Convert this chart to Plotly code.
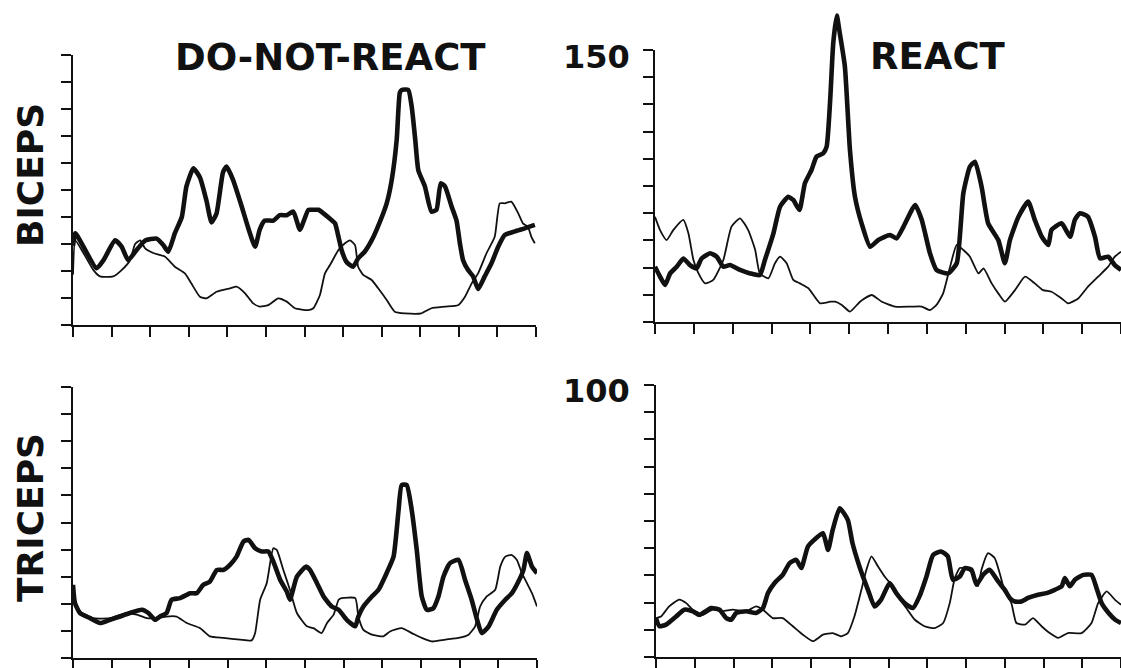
import plotly.graph_objects as go

W, H = 1121, 668

# ---------------- data (x in tick units 0..12, y in axis units) ----------------
# DO-NOT-REACT / BICEPS (scale 0..150)
tl_thick_x = [0.0, 0.06, 0.27, 0.61, 0.79, 1.09, 1.26, 1.43, 1.65, 1.87, 2.17, 2.34, 2.47, 2.64, 2.82, 2.94, 3.12, 3.29, 3.46, 3.59, 3.72, 3.89, 3.98, 4.15, 4.37, 4.54, 4.72, 4.84, 4.97, 5.19, 5.36, 5.54, 5.71, 5.88, 6.10, 6.18, 6.36, 6.49, 6.66, 6.79, 6.88, 6.96, 7.09, 7.26, 7.39, 7.56, 7.74, 7.87, 8.13, 8.26, 8.39, 8.47, 8.52, 8.69, 8.78, 8.87, 8.95, 9.12, 9.29, 9.42, 9.53, 9.64, 9.81, 9.94, 10.03, 10.11, 10.24, 10.37, 10.50, 10.67, 10.84, 11.02, 11.19, 11.45, 11.71, 11.97]
tl_thick_y = [44, 51, 43.5, 31.5, 36, 47, 43.5, 36, 41.7, 47, 48, 44.4, 40.7, 51, 60, 77, 87, 82, 69, 57, 62, 85, 88, 80.5, 66, 54, 43.5, 53, 58, 58, 61, 61, 63, 53, 64, 64, 64, 62, 59, 56.5, 49, 41.7, 35, 32.4, 37, 40.7, 47, 53, 67.6, 80.5, 103, 129, 130.6, 130.6, 121, 103, 86, 77, 63, 64, 78.7, 77, 66, 58, 45, 36, 30.5, 27, 20, 27, 34, 43.5, 50, 52, 53.7, 55.6]
tl_thin_x = [0.0, 0.06, 0.27, 0.53, 0.70, 1.04, 1.26, 1.48, 1.61, 1.74, 1.87, 2.08, 2.38, 2.64, 2.90, 3.07, 3.29, 3.46, 3.72, 4.07, 4.24, 4.46, 4.67, 4.84, 5.06, 5.32, 5.54, 5.75, 6.10, 6.23, 6.40, 6.53, 6.66, 6.88, 7.05, 7.18, 7.31, 7.39, 7.52, 7.74, 7.91, 8.13, 8.34, 8.60, 9.03, 9.29, 9.64, 9.98, 10.16, 10.33, 10.50, 10.72, 10.93, 11.06, 11.19, 11.36, 11.54, 11.66, 11.79, 11.88, 11.97]
tl_thin_y = [28, 47, 40, 30.5, 27, 27, 30.5, 36, 45, 47, 42.6, 40, 38, 32.4, 28.7, 23, 15.7, 14.8, 18.5, 20.4, 21.3, 17.6, 12, 10.2, 11, 14.8, 13, 9.3, 8.3, 9.3, 16.7, 28.7, 33.3, 41.7, 45.4, 47, 44.4, 32.4, 27.8, 25, 20.4, 13.9, 7.4, 6.5, 6.5, 9.3, 10.2, 11, 15.7, 23, 28.7, 40, 49, 67.6, 67.6, 68.5, 62, 56.5, 54.6, 49, 45.4]

# REACT / BICEPS (scale 0..150)
tr_thick_x = [0.0, 0.13, 0.26, 0.39, 0.56, 0.73, 0.90, 1.07, 1.20, 1.42, 1.59, 1.76, 1.93, 2.19, 2.45, 2.70, 2.83, 3.05, 3.22, 3.43, 3.56, 3.72, 3.86, 4.03, 4.16, 4.33, 4.42, 4.51, 4.59, 4.68, 4.76, 4.89, 5.02, 5.15, 5.32, 5.54, 5.75, 6.05, 6.22, 6.40, 6.70, 6.87, 7.08, 7.25, 7.55, 7.77, 7.94, 8.11, 8.24, 8.41, 8.58, 8.84, 9.01, 9.14, 9.36, 9.61, 9.78, 9.96, 10.13, 10.21, 10.47, 10.69, 10.81, 10.94, 11.15, 11.33, 11.46, 11.67, 11.84, 12.0]
tr_thick_y = [30.5, 25, 20.4, 26.8, 30.5, 35, 31.4, 29.6, 35, 37.9, 36, 30.5, 31.4, 28.7, 26.8, 25.9, 34.2, 48.9, 63.6, 69, 67.3, 61.8, 76.5, 83.8, 91.2, 93, 96.7, 122, 153.7, 169, 159, 140.8, 94.9, 69, 54.4, 41.5, 45.2, 48, 46.1, 52.6, 64.5, 56.3, 37.9, 28.7, 26.8, 32.4, 71, 85.7, 88.4, 74.6, 54.4, 45.2, 32.4, 45.2, 58, 66.4, 56.3, 47, 42.5, 50.7, 54.4, 47, 56.3, 60, 58, 47, 35.1, 36, 31.4, 28.7]
tr_thin_x = [0.0, 0.13, 0.30, 0.47, 0.73, 0.86, 0.99, 1.12, 1.29, 1.50, 1.76, 1.97, 2.19, 2.40, 2.58, 2.70, 2.92, 3.09, 3.22, 3.39, 3.56, 3.73, 3.95, 4.25, 4.51, 4.64, 4.81, 5.02, 5.28, 5.58, 5.84, 6.18, 6.61, 6.87, 7.08, 7.25, 7.42, 7.60, 7.77, 7.94, 8.11, 8.33, 8.46, 8.67, 8.84, 9.01, 9.27, 9.53, 9.78, 9.99, 10.21, 10.47, 10.64, 10.90, 11.15, 11.41, 11.67, 11.84, 12.0]
tr_thin_y = [58, 50.7, 45.2, 50.7, 56.3, 48.9, 34.2, 26.8, 21.3, 23.2, 34.2, 52.6, 57.2, 50.7, 39.7, 26.8, 24.1, 32.4, 36, 32.4, 23.2, 21.3, 18.6, 10.3, 11.2, 11.2, 9.4, 5.7, 11.2, 14.9, 11.2, 8.5, 8.5, 8.5, 6.6, 9.4, 15.8, 30.5, 42.5, 39.7, 36, 26.8, 29.6, 21.3, 15.8, 11.2, 17.6, 25, 21.3, 17.6, 16.7, 13, 10.3, 13, 19.5, 25, 30.5, 36, 38.8]

# DO-NOT-REACT / TRICEPS (scale 0..100)
bl_thick_x = [0.0, 0.05, 0.18, 0.44, 0.70, 0.96, 1.22, 1.47, 1.78, 1.95, 2.12, 2.25, 2.42, 2.55, 2.77, 3.03, 3.20, 3.37, 3.54, 3.72, 3.89, 4.06, 4.23, 4.41, 4.54, 4.71, 4.88, 5.05, 5.18, 5.36, 5.53, 5.61, 5.79, 6.02, 6.13, 6.31, 6.48, 6.69, 6.87, 7.08, 7.30, 7.38, 7.51, 7.73, 7.90, 8.11, 8.29, 8.42, 8.50, 8.63, 8.76, 8.89, 9.02, 9.15, 9.32, 9.45, 9.58, 9.75, 9.97, 10.14, 10.31, 10.45, 10.57, 10.75, 10.96, 11.18, 11.35, 11.52, 11.65, 11.74, 11.87, 12.0]
bl_thick_y = [27, 20.3, 16.6, 14.7, 12.9, 14.1, 15.3, 16.6, 17.8, 16.6, 14.1, 15.3, 16.6, 21.5, 22.1, 23.9, 23.9, 27, 28.2, 32.5, 32.5, 34.4, 37.4, 43, 43.6, 40.5, 39.3, 39.3, 35.6, 28.8, 24.5, 21.5, 30, 33.7, 32.5, 27.6, 22.7, 19, 17.8, 14.1, 11.7, 15.3, 19, 22.7, 25.2, 31.3, 37.4, 54.6, 63.8, 63.8, 54.6, 39.9, 22.7, 17.8, 18.4, 22.7, 30, 35, 36.2, 28.8, 21.5, 14.1, 9.2, 11.7, 17.8, 21.5, 23.9, 28.2, 32.5, 38.7, 33.7, 31.3]
bl_thin_x = [0.0, 0.05, 0.18, 0.53, 0.96, 1.39, 1.65, 1.91, 2.16, 2.42, 2.68, 2.94, 3.29, 3.54, 3.89, 4.32, 4.62, 4.71, 4.84, 5.01, 5.18, 5.27, 5.44, 5.61, 5.79, 6.05, 6.22, 6.43, 6.57, 6.74, 6.87, 6.95, 7.30, 7.38, 7.51, 7.73, 8.03, 8.20, 8.50, 8.76, 9.02, 9.28, 9.63, 9.97, 10.23, 10.40, 10.53, 10.70, 10.92, 11.05, 11.18, 11.35, 11.48, 11.61, 11.74, 11.87, 12.0]
bl_thin_y = [24, 20.3, 17.2, 14.7, 14.7, 16.6, 16, 14.7, 14.7, 15.3, 15.3, 12.9, 11, 8, 7.4, 6.8, 6.5, 9.2, 21.5, 27.6, 40.5, 39.9, 32.5, 25.2, 16.6, 11.7, 11, 9.2, 12.9, 16, 21.5, 22.1, 22.1, 15.3, 10.4, 8.6, 8, 9.8, 11, 9.2, 7.4, 6.1, 6.8, 7.4, 8.6, 11.7, 19, 22.7, 25.2, 33.7, 37.4, 38, 36.2, 31.3, 27.6, 23.9, 19]

# REACT / TRICEPS (scale 0..100)
br_thick_x = [0.0, 0.09, 0.26, 0.52, 0.73, 0.95, 1.12, 1.42, 1.64, 1.81, 1.94, 2.07, 2.33, 2.58, 2.76, 2.89, 3.06, 3.27, 3.45, 3.62, 3.75, 3.92, 4.13, 4.31, 4.44, 4.56, 4.74, 4.95, 5.07, 5.25, 5.47, 5.64, 5.81, 6.03, 6.20, 6.42, 6.63, 6.80, 6.98, 7.15, 7.36, 7.53, 7.66, 7.84, 7.97, 8.14, 8.27, 8.44, 8.61, 8.83, 9.00, 9.13, 9.26, 9.43, 9.60, 9.86, 10.08, 10.29, 10.47, 10.55, 10.68, 10.81, 11.03, 11.24, 11.37, 11.50, 11.68, 11.85, 12.0]
br_thick_y = [14.3, 11.3, 11.9, 14.9, 17.4, 16.8, 15.5, 18, 17.4, 14.3, 13.7, 16.2, 16.8, 16.2, 18, 23.5, 27.2, 30.2, 34.5, 35.7, 32.7, 40.6, 43.7, 45.5, 39.4, 46.7, 54.7, 50.4, 41.9, 33.3, 24.7, 18.6, 21.1, 27.2, 23.5, 19.8, 18, 22.3, 29.6, 37.5, 38.8, 37, 28.4, 29.6, 32.7, 32.1, 26.6, 30.2, 32.1, 27.8, 24.7, 21.7, 20.4, 20.4, 21.7, 22.9, 23.5, 24.7, 26, 29, 26, 28.4, 30.2, 30.2, 25.3, 19.8, 16.2, 13.7, 12.5]
br_thin_x = [0.0, 0.13, 0.34, 0.60, 0.78, 0.95, 1.21, 1.46, 1.72, 1.98, 2.33, 2.58, 2.76, 3.01, 3.27, 3.53, 3.79, 4.05, 4.31, 4.56, 4.78, 4.95, 5.12, 5.30, 5.43, 5.56, 5.73, 5.90, 6.07, 6.24, 6.46, 6.68, 6.93, 7.19, 7.41, 7.58, 7.71, 7.84, 7.97, 8.18, 8.31, 8.40, 8.57, 8.74, 8.87, 9.00, 9.17, 9.30, 9.52, 9.73, 9.95, 10.16, 10.38, 10.63, 10.98, 11.24, 11.41, 11.63, 11.84, 12.0]
br_thin_y = [14.3, 14.9, 18.6, 21.1, 19.8, 17.4, 15.5, 17.4, 16.8, 17.4, 16.8, 18.6, 17.4, 14.3, 14.3, 11.3, 8.2, 5.8, 8.2, 8.8, 7.6, 8.8, 14.9, 24.7, 32.1, 37, 33.3, 29.6, 26.6, 22.3, 18, 13.7, 11.3, 10.6, 12.5, 19.8, 29, 32.7, 32.7, 30.8, 26, 32.1, 38.2, 36.4, 30.8, 24.1, 19.8, 12.5, 11.9, 14.3, 11.3, 8.8, 7, 8.8, 8.8, 12.5, 19.8, 24.1, 21.1, 19.2]

x_ticks = list(range(0, 13))
biceps_ticks = list(range(0, 151, 15))
triceps_ticks = list(range(0, 101, 10))
col_titles = ["DO-NOT-REACT", "REACT"]
row_titles = ["BICEPS", "TRICEPS"]
top_labels = ["150", "100"]

# ---------------- layout helpers ----------------
def px(v):
    return v / W

def py(v):
    return 1 - v / H

INK = "#111111"
THICK, THIN = 4.6, 1.8

fig = go.Figure()

def xaxis_def(x0, x1, anchor):
    return dict(domain=[px(x0), px(x1)], range=[0, 12], anchor=anchor,
                tickvals=x_ticks, ticks="outside", ticklen=10, tickwidth=2,
                tickcolor=INK, showticklabels=False, showline=True,
                linecolor=INK, linewidth=2, showgrid=False, zeroline=False,
                fixedrange=True)

def yaxis_def(y_top, y_bot, rmax, tickvals, anchor):
    return dict(domain=[py(y_bot), py(y_top)], range=[0, rmax], anchor=anchor,
                tickvals=tickvals, ticks="outside", ticklen=10, tickwidth=2,
                tickcolor=INK, showticklabels=False, showline=True,
                linecolor=INK, linewidth=2, showgrid=False, zeroline=False,
                fixedrange=True)

layout = dict(
    width=W, height=H, margin=dict(l=0, r=0, t=0, b=0),
    paper_bgcolor="white", plot_bgcolor="rgba(0,0,0,0)", showlegend=False,
    xaxis=xaxis_def(73, 536, "y"),
    yaxis=yaxis_def(55, 325, 150, biceps_ticks, "x"),
    xaxis2=xaxis_def(655, 1121, "y2"),
    yaxis2=yaxis_def(50, 322, 150, biceps_ticks, "x2"),
    xaxis3=xaxis_def(73, 537, "y3"),
    yaxis3=yaxis_def(387, 658, 100, triceps_ticks, "x3"),
    xaxis4=xaxis_def(656, 1121, "y4"),
    yaxis4=yaxis_def(385, 657, 100, triceps_ticks, "x4"),
    # invisible data axis for the REACT/BICEPS panel so the tall peak is not clipped
    yaxis5=dict(domain=[py(322), 1], range=[0, 150 * 322 / 272], anchor="x2",
                visible=False, fixedrange=True),
)

def add(xs, ys, width, xa, ya):
    fig.add_trace(go.Scatter(x=xs, y=ys, mode="lines", xaxis=xa, yaxis=ya,
                             line=dict(color=INK, width=width, shape="spline",
                                       smoothing=0.5),
                             hoverinfo="skip"))

# empty trace so that the REACT/BICEPS tick axis (x2, y2) is drawn
fig.add_trace(go.Scatter(x=[], y=[], mode="lines", xaxis="x2", yaxis="y2",
                         hoverinfo="skip"))

add(tl_thin_x, tl_thin_y, THIN, "x", "y")
add(tl_thick_x, tl_thick_y, THICK, "x", "y")
add(tr_thin_x, tr_thin_y, THIN, "x2", "y5")
add(tr_thick_x, tr_thick_y, THICK, "x2", "y5")
add(bl_thin_x, bl_thin_y, THIN, "x3", "y3")
add(bl_thick_x, bl_thick_y, THICK, "x3", "y3")
add(br_thin_x, br_thin_y, THIN, "x4", "y4")
add(br_thick_x, br_thick_y, THICK, "x4", "y4")

FONT = "DejaVu Sans"
ann = []
ann.append(dict(text=col_titles[0], x=px(330), y=py(58), xref="paper", yref="paper",
                showarrow=False, xanchor="center", yanchor="middle",
                font=dict(family=FONT, size=37, color=INK, weight="bold")))
ann.append(dict(text=col_titles[1], x=px(938), y=py(57), xref="paper", yref="paper",
                showarrow=False, xanchor="center", yanchor="middle",
                font=dict(family=FONT, size=37, color=INK, weight="bold")))
ann.append(dict(text=row_titles[0], x=px(30), y=py(175), xref="paper", yref="paper",
                showarrow=False, xanchor="center", yanchor="middle", textangle=-90,
                font=dict(family=FONT, size=36, color=INK, weight="bold")))
ann.append(dict(text=row_titles[1], x=px(30), y=py(518), xref="paper", yref="paper",
                showarrow=False, xanchor="center", yanchor="middle", textangle=-90,
                font=dict(family=FONT, size=36, color=INK, weight="bold")))
ann.append(dict(text=top_labels[0], x=px(632), y=py(57), xref="paper", yref="paper",
                showarrow=False, xanchor="right", yanchor="middle",
                font=dict(family=FONT, size=32, color=INK, weight="bold")))
ann.append(dict(text=top_labels[1], x=px(632), y=py(391), xref="paper", yref="paper",
                showarrow=False, xanchor="right", yanchor="middle",
                font=dict(family=FONT, size=32, color=INK, weight="bold")))
layout["annotations"] = ann

fig.update_layout(**layout)
fig.write_html("out.html")
